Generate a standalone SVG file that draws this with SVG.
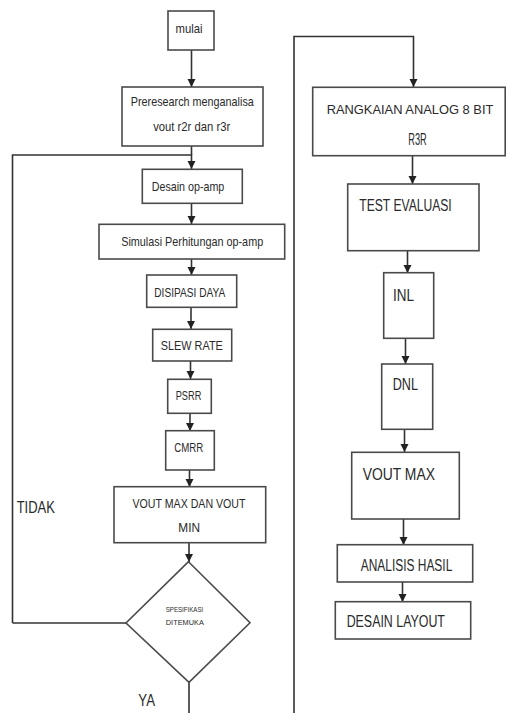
<svg xmlns="http://www.w3.org/2000/svg" width="507" height="713" viewBox="0 0 507 713">
<defs>
<marker id="ah" viewBox="0 0 8 10" refX="8" refY="5" markerWidth="8" markerHeight="10" markerUnits="userSpaceOnUse" orient="auto">
<path d="M0,1 L8,5 L0,9 Z" fill="#222"/>
</marker>
</defs>
<style>
.b{fill:#fff;stroke:#4a4a4a;stroke-width:1.6}
.c{fill:none;stroke:#333;stroke-width:1.6}
.ca{fill:none;stroke:#333;stroke-width:1.6;marker-end:url(#ah)}
text{font-family:"Liberation Sans",Arial,sans-serif;fill:#2a2a2a;text-anchor:middle}
.s{font-size:13.5px}
.r{font-size:16px}
.l{font-size:17px}
.d{font-size:7.5px}
</style>
<rect width="507" height="713" fill="#fff"/>
<g id="connectors">
<line class="ca" x1="191.5" y1="50" x2="191.5" y2="87"/>
<polyline class="ca" points="12.5,623 12.5,155 191.5,155 191.5,169"/>
<line class="c" x1="191.5" y1="146" x2="191.5" y2="155"/>
<line class="c" x1="12.5" y1="623" x2="126" y2="623"/>
<line class="ca" x1="191.5" y1="203" x2="191.5" y2="224"/>
<line class="ca" x1="191.5" y1="259" x2="191.5" y2="275"/>
<line class="ca" x1="191" y1="307" x2="191" y2="329"/>
<line class="ca" x1="190.5" y1="361" x2="190.5" y2="379"/>
<line class="ca" x1="190" y1="413" x2="190" y2="431"/>
<line class="ca" x1="189.5" y1="470" x2="189.5" y2="487"/>
<line class="ca" x1="189" y1="543" x2="189" y2="562"/>
<line class="c" x1="189" y1="682" x2="189" y2="713"/>
<polyline class="ca" points="294,713 294,36.5 413.5,36.5 413.5,87"/>
<line class="ca" x1="412.5" y1="156" x2="412.5" y2="184"/>
<line class="ca" x1="407.5" y1="251" x2="407.5" y2="273"/>
<line class="ca" x1="405.5" y1="338" x2="405.5" y2="364"/>
<line class="ca" x1="404.5" y1="429" x2="404.5" y2="452"/>
<line class="ca" x1="403.5" y1="519" x2="403.5" y2="545"/>
<line class="ca" x1="402.5" y1="582" x2="402.5" y2="602"/>
</g>
<g id="mulai"><rect class="b" x="168" y="11" width="46" height="39"/><text class="s" x="189" y="33" textLength="27" lengthAdjust="spacingAndGlyphs">mulai</text></g>
<g id="preresearch"><rect class="b" x="122" y="87" width="141" height="59"/><text class="s" x="192.3" y="106.4" textLength="123" lengthAdjust="spacingAndGlyphs">Preresearch menganalisa</text><text class="s" x="191.7" y="131.4" textLength="77" lengthAdjust="spacingAndGlyphs">vout r2r dan r3r</text></g>
<g id="desain-opamp"><rect class="b" x="142.3" y="169.3" width="100" height="34"/><text class="s" x="188" y="191.4" textLength="72.6" lengthAdjust="spacingAndGlyphs">Desain op-amp</text></g>
<g id="simulasi"><rect class="b" x="99" y="224.3" width="185.7" height="34.7"/><text class="s" x="192.2" y="245.7" textLength="142" lengthAdjust="spacingAndGlyphs">Simulasi Perhitungan op-amp</text></g>
<g id="disipasi"><rect class="b" x="146.7" y="275" width="90" height="32.3"/><text class="s" x="189.8" y="297" textLength="71" lengthAdjust="spacingAndGlyphs">DISIPASI DAYA</text></g>
<g id="slew"><rect class="b" x="152.7" y="329.3" width="79" height="31.7"/><text class="s" x="191.8" y="349.7" textLength="62" lengthAdjust="spacingAndGlyphs">SLEW RATE</text></g>
<g id="psrr"><rect class="b" x="167.7" y="379.3" width="43.6" height="34"/><text class="s" x="188.5" y="400.4" textLength="25.6" lengthAdjust="spacingAndGlyphs">PSRR</text></g>
<g id="cmrr"><rect class="b" x="165.7" y="430.7" width="48.6" height="39.3"/><text class="s" x="188.7" y="452" textLength="29" lengthAdjust="spacingAndGlyphs">CMRR</text></g>
<g id="vout-maxmin"><rect class="b" x="114" y="486.7" width="151.7" height="56"/><text class="s" x="189" y="508" textLength="113" lengthAdjust="spacingAndGlyphs">VOUT  MAX DAN VOUT</text><text class="s" x="189.2" y="532.4" textLength="21.7" lengthAdjust="spacingAndGlyphs">MIN</text></g>
<g id="tidak"><text class="l" x="35.8" y="512.8" textLength="38.3" lengthAdjust="spacingAndGlyphs">TIDAK</text></g>
<g id="spesifikasi"><polygon class="b" points="188.5,561.7 250,622.8 189,682.3 126,623"/><text class="d" x="184.5" y="611.7" textLength="37.6" lengthAdjust="spacingAndGlyphs">SPESIFIKASI</text><text class="d" x="184.8" y="625.4" textLength="38" lengthAdjust="spacingAndGlyphs">DITEMUKA</text></g>
<g id="ya"><text class="l" x="146.7" y="706" textLength="16.7" lengthAdjust="spacingAndGlyphs">YA</text></g>
<g id="rangkaian"><rect class="b" x="312.7" y="87.3" width="192.5" height="68.4"/><text x="410" y="113.5" style="font-size:13.5px" textLength="166.7" lengthAdjust="spacingAndGlyphs">RANGKAIAN ANALOG 8 BIT</text><text class="r" x="417.5" y="145" textLength="18.4" lengthAdjust="spacingAndGlyphs">R3R</text></g>
<g id="test"><rect class="b" x="347.7" y="184" width="131.3" height="66.7"/><text class="r" x="405.5" y="210.6" textLength="92.4" lengthAdjust="spacingAndGlyphs">TEST EVALUASI</text></g>
<g id="inl"><rect class="b" x="383.7" y="272.7" width="50" height="65.6"/><text class="r" x="403.5" y="300.6" textLength="21" lengthAdjust="spacingAndGlyphs">INL</text></g>
<g id="dnl"><rect class="b" x="381.7" y="364" width="51" height="65.3"/><text class="r" x="405.3" y="389.6" textLength="25.3" lengthAdjust="spacingAndGlyphs">DNL</text></g>
<g id="vout-max"><rect class="b" x="351.7" y="452.3" width="107.6" height="66.7"/><text class="r" x="398.8" y="479.6" textLength="72.3" lengthAdjust="spacingAndGlyphs">VOUT  MAX</text></g>
<g id="analisis"><rect class="b" x="337.3" y="544.7" width="135.4" height="37.3"/><text class="r" x="406.5" y="570.6" textLength="91.6" lengthAdjust="spacingAndGlyphs">ANALISIS HASIL</text></g>
<g id="layout"><rect class="b" x="335.3" y="601.7" width="135.4" height="37.3"/><text class="r" x="395.8" y="627.3" textLength="98.3" lengthAdjust="spacingAndGlyphs">DESAIN LAYOUT</text></g>
</svg>
